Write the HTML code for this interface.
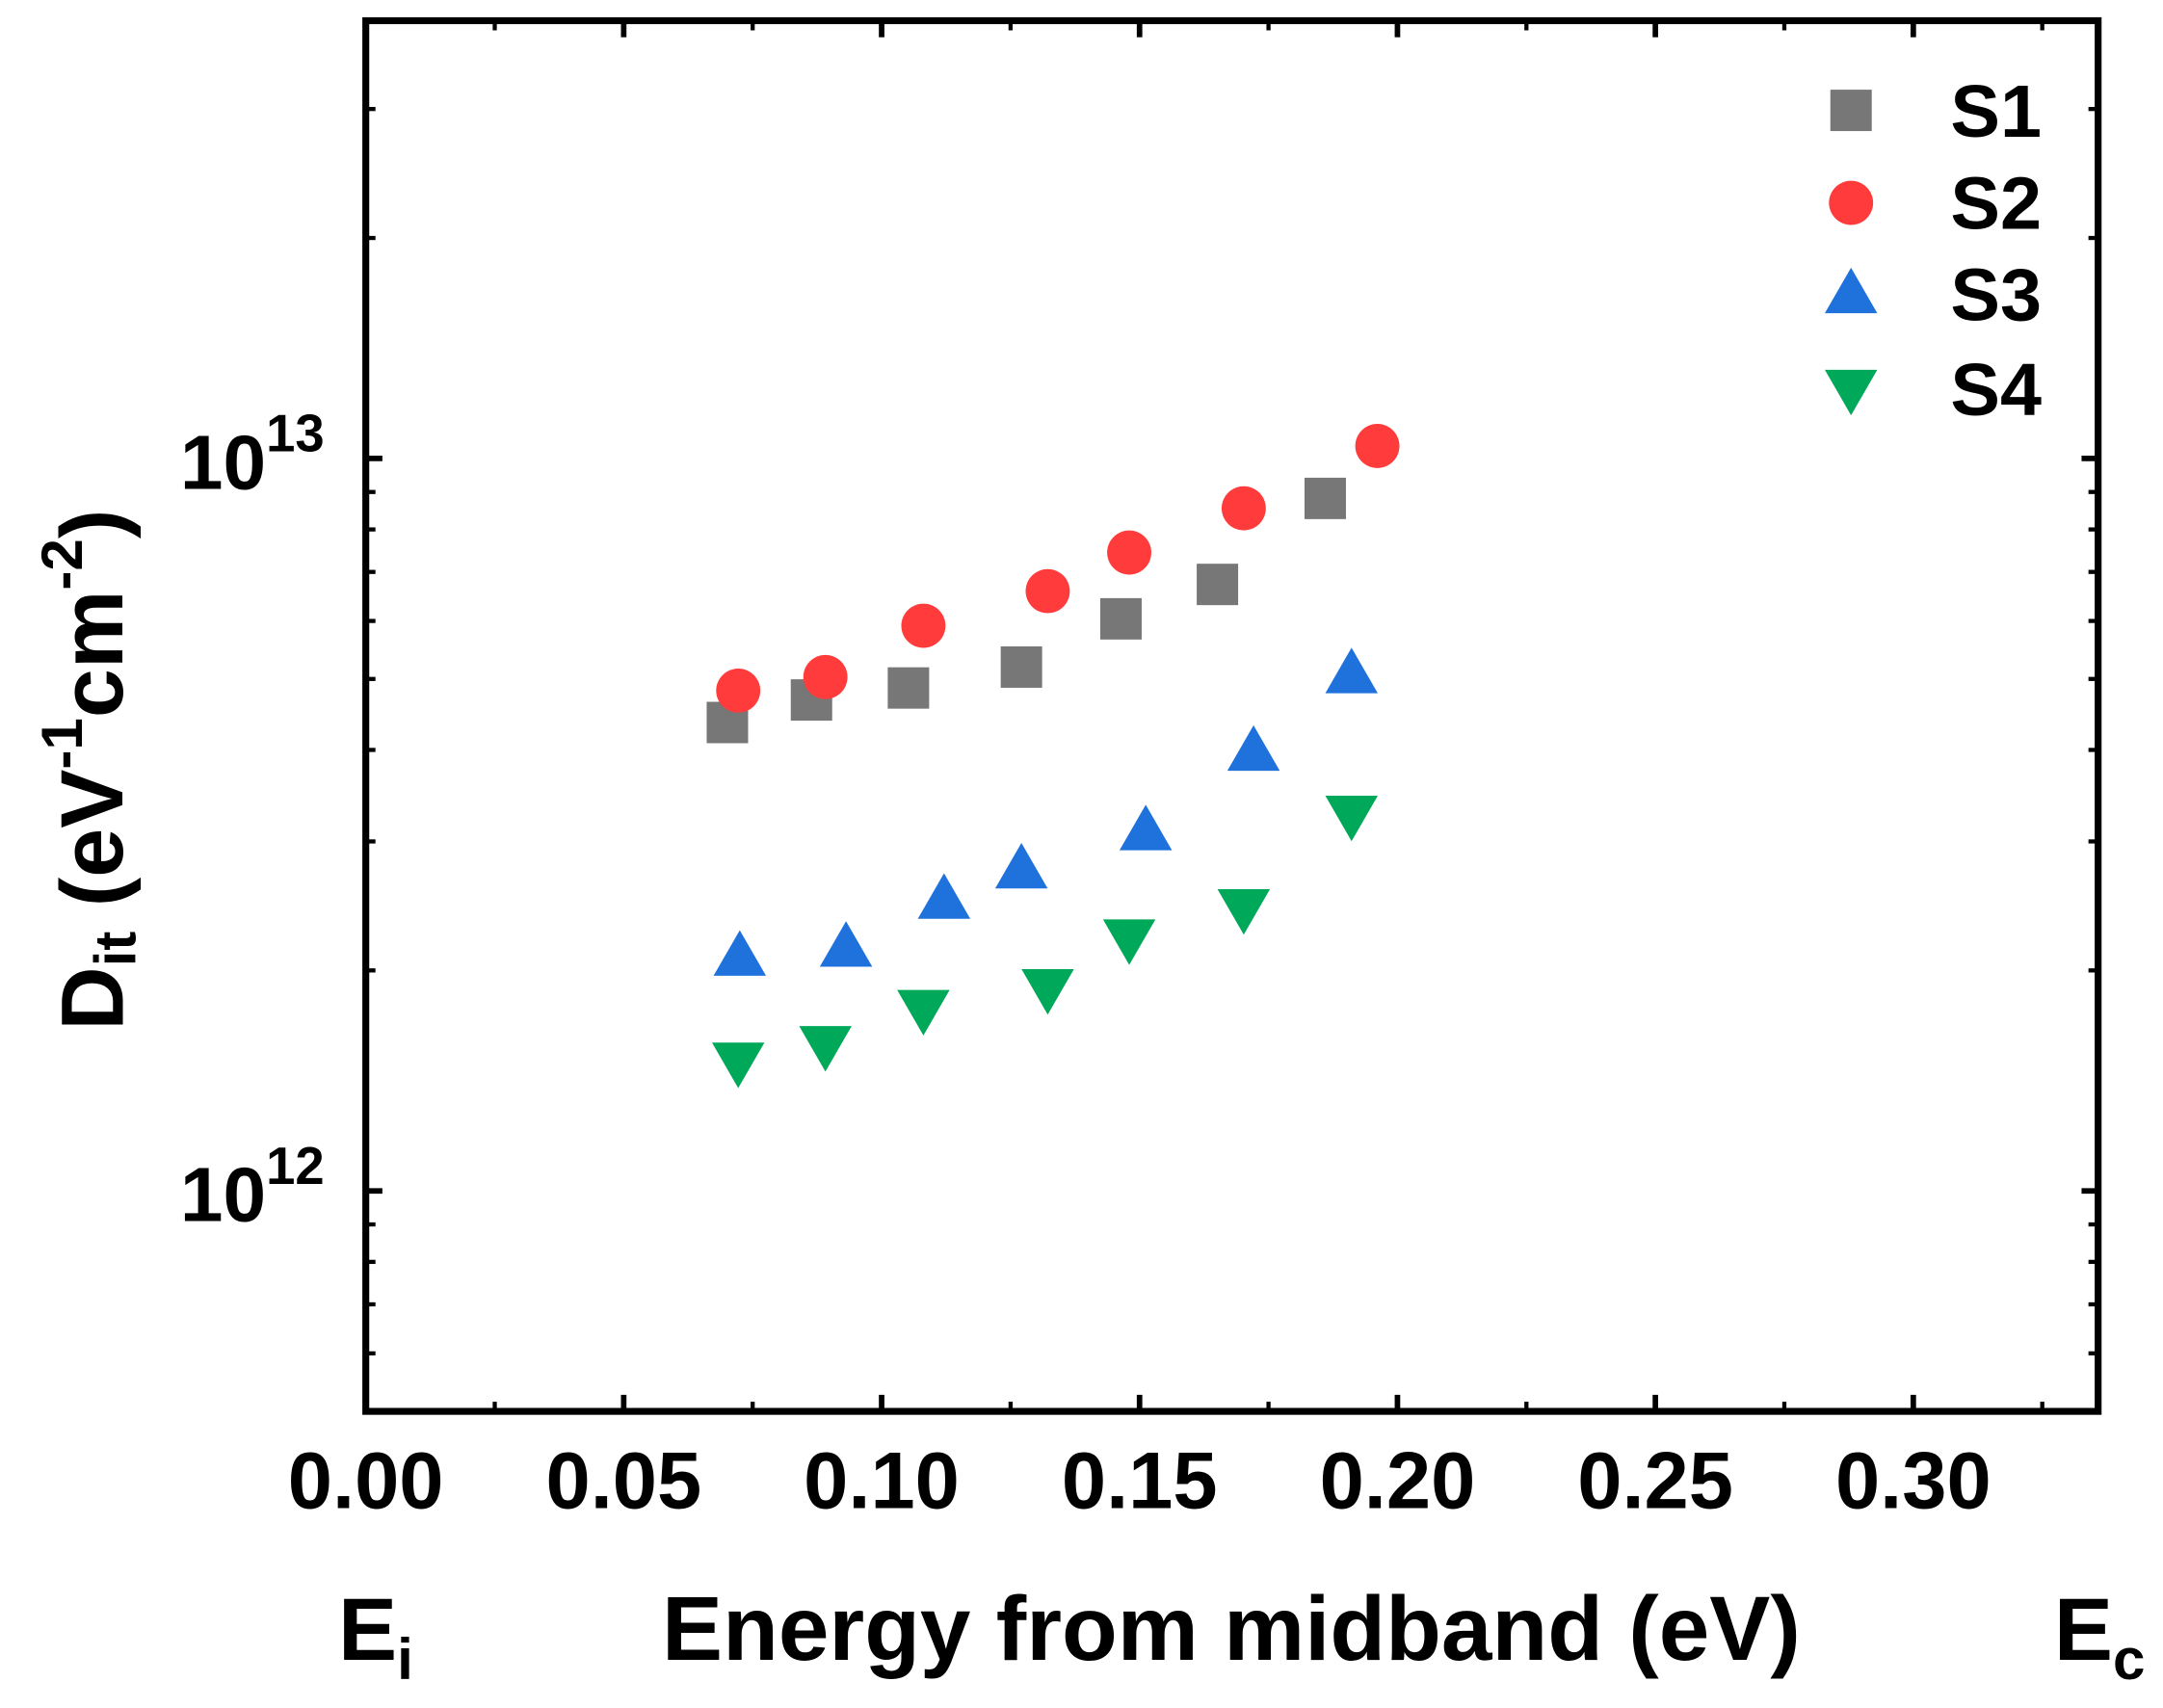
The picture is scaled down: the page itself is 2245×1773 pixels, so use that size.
<!DOCTYPE html>
<html><head><meta charset="utf-8"><style>
html,body{margin:0;padding:0;background:#fff;}
svg{display:block;font-family:"Liberation Sans",Arial,sans-serif;font-weight:bold;}
</style></head><body>
<svg id="chart" width="2245" height="1773" viewBox="0 0 1567 1238" preserveAspectRatio="none" xmlns="http://www.w3.org/2000/svg">
<g id="marks"></g>
<g id="axes"></g>
<g id="legend"></g>
<text x="50" y="558" font-size="64" transform="rotate(-90 50 558)" text-anchor="middle" dominant-baseline="middle" dy="22">D<tspan font-size="42" dy="15">it</tspan><tspan dy="-15"> (eV</tspan><tspan font-size="42" dy="-24">-1</tspan><tspan dy="24">cm</tspan><tspan font-size="42" dy="-24">-2</tspan><tspan dy="24">)</tspan></text>
<text x="892" y="1203" font-size="66" text-anchor="middle">Energy from midband (eV)</text>
<text x="245" y="1203" font-size="64">E<tspan font-size="42" dy="14">i</tspan></text>
<text x="1488" y="1203" font-size="64">E<tspan font-size="42" dy="14">c</tspan></text>
</svg>
<script>
const s1x=[0.0701,0.0864,0.1052,0.1271,0.1464,0.1651,0.186];
const s1y=[4.36e12,4.68e12,4.86e12,5.19e12,6.04e12,6.73e12,8.82e12];
const s2x=[0.0722,0.0891,0.1081,0.1322,0.148,0.1702,0.1961];
const s2y=[4.82e12,5.03e12,5.91e12,6.59e12,7.44e12,8.55e12,1.04e13];
const s3x=[0.0725,0.0931,0.1121,0.1271,0.1512,0.1721,0.1911];
const s3y=[2.09e12,2.15e12,2.50e12,2.75e12,3.10e12,3.98e12,5.08e12];
const s4x=[0.0722,0.0891,0.1081,0.1322,0.148,0.1702,0.1911];
const s4y=[1.50e12,1.58e12,1.77e12,1.89e12,2.21e12,2.43e12,3.26e12];
const xTicks=[0,0.05,0.10,0.15,0.20,0.25,0.30];
const xTickLabels=["0.00","0.05","0.10","0.15","0.20","0.25","0.30"];
const yDecades=[12,13];
const seriesNames=["S1","S2","S3","S4"];

const NS="http://www.w3.org/2000/svg";
const L=265,R=1520,T=15,B=1023;
const xMin=0,xMax=(R-L)/3737;
const yMin=Math.log10(5e11),yMax=Math.log10(3.96e13);
function X(v){return L+(v-xMin)/(xMax-xMin)*(R-L);}
function Y(v){return B-(Math.log10(v)-yMin)/(yMax-yMin)*(B-T);}
function mk(tag,attrs,parent){const e=document.createElementNS(NS,tag);for(const k in attrs)e.setAttribute(k,attrs[k]);parent.appendChild(e);return e;}
const marks=document.getElementById('marks'),axes=document.getElementById('axes'),legend=document.getElementById('legend');
const colors=["#777777","#ff3b3b","#1f72dc","#00a85a"];
function marker(type,cx,cy,parent){
  const s=15;let e;
  if(type===0)e=mk('rect',{x:cx-s,y:cy-s,width:2*s,height:2*s,fill:colors[0]},parent);
  else if(type===1)e=mk('ellipse',{cx:cx,cy:cy,rx:16,ry:16,fill:colors[1]},parent);
  else if(type===2)e=mk('polygon',{points:`${cx},${cy-19} ${cx-19},${cy+14} ${cx+19},${cy+14}`,fill:colors[2]},parent);
  else e=mk('polygon',{points:`${cx},${cy+19} ${cx-19},${cy-14} ${cx+19},${cy-14}`,fill:colors[3]},parent);
  return e;
}
const all=[[s1x,s1y],[s2x,s2y],[s3x,s3y],[s4x,s4y]];
all.forEach((s,i)=>{s[0].forEach((xv,j)=>{
  const e=marker(i,X(xv),Y(s[1][j]),marks);
  
  
});});
const fr=mk('rect',{x:L,y:T,width:R-L,height:B-T,fill:'none',stroke:'#000','stroke-width':5},axes);


xTicks.forEach((v,i)=>{
  const x=X(v);
  mk('line',{x1:x,y1:B,x2:x,y2:B-12,stroke:'#000','stroke-width':4},axes);
  mk('line',{x1:x,y1:T,x2:x,y2:T+12,stroke:'#000','stroke-width':4},axes);
  const mx=X(v+0.025);
  if(mx<R){mk('line',{x1:mx,y1:B,x2:mx,y2:B-7,stroke:'#000','stroke-width':3},axes);mk('line',{x1:mx,y1:T,x2:mx,y2:T+7,stroke:'#000','stroke-width':3},axes);}
  const t=mk('text',{x:x,y:1093,'font-size':58,'text-anchor':'middle'},axes);
  t.textContent=xTickLabels[i];
  
  
});
for(let d=11;d<=13;d++){for(let m=1;m<10;m++){
  const v=m*Math.pow(10,d);const lv=Math.log10(v);
  if(lv<yMin||lv>yMax)continue;
  const y=Y(v);const len=m===1?12:7;
  mk('line',{x1:L,y1:y,x2:L+len,y2:y,stroke:'#000','stroke-width':m===1?4:3},axes);
  mk('line',{x1:R,y1:y,x2:R-len,y2:y,stroke:'#000','stroke-width':m===1?4:3},axes);
}}
yDecades.forEach(d=>{
  const y=Y(Math.pow(10,d));
  const t=mk('text',{x:235,y:y+22,'font-size':56,'text-anchor':'end'},axes);
  t.textContent='10';
  const sp=mk('tspan',{'font-size':38,dy:-27},t);sp.textContent=String(d);
  
  
});
const ly=[80,147,213,282];
seriesNames.forEach((n,i)=>{
  const g=mk('g',{},legend);
  
  
  marker(i,1341,ly[i],g);
  const t=mk('text',{x:1413,y:ly[i]+19,'font-size':54},g);t.textContent=n;
});
</script>
</body></html>
